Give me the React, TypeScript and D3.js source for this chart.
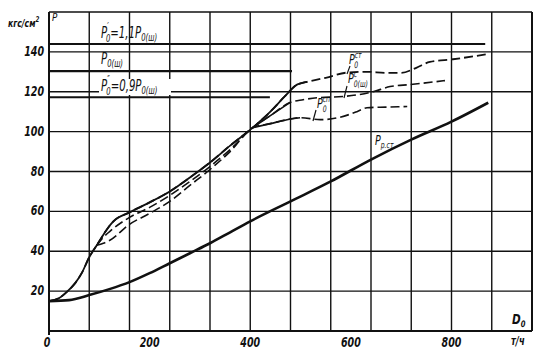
import React from "react";
import * as d3 from "d3";

// ---- data ----
const xTickLabels = [0, 200, 400, 600, 800];
const yTickLabels = [20, 40, 60, 80, 100, 120, 140];
const xGridValues = [0, 80, 160, 240, 320, 400, 480, 560, 640, 720, 800, 880, 960];
const yGridValues = [0, 20, 40, 60, 80, 100, 120, 140, 160];

// horizontal reference pressures: [value, end D0]
const p0Prime: [number, number] = [144, 867];
const p0Sh: [number, number] = [130.3, 483];
const p0Second: [number, number] = [117.3, 439];

const pRst: [number, number][] = [
  [0, 15], [40, 15.5], [80, 18], [120, 21], [160, 24.5], [200, 29], [240, 34],
  [280, 39], [320, 44], [360, 49.5], [400, 55], [480, 65], [560, 75], [640, 86],
  [720, 96], [800, 105], [873, 114.5],
];

const p0St: [number, number][] = [
  [0, 15], [20, 16.5], [35, 19.5], [52, 24], [65, 29], [80, 37], [95, 43], [110, 49],
  [121, 53], [128, 55], [160, 59.5], [200, 64.5], [240, 70], [280, 77], [320, 84.5],
  [360, 93], [405, 102], [440, 110], [470, 118], [493, 123.6], [500, 124.2], [513, 125],
  [550, 127], [592, 129.6], [632, 130], [670, 129.5], [700, 129.5], [730, 132],
  [757, 135], [803, 136.3], [868, 138.7],
];
const p0StSolid: [number, number] = [0, 513];

const p0ShC: [number, number][] = [
  [95, 43], [108, 47], [121, 50], [160, 57], [200, 62], [240, 68], [280, 75],
  [320, 82.5], [360, 91], [405, 102], [440, 108], [479, 114.6], [505, 116],
  [533, 117], [584, 117.6], [644, 120], [678, 122.6], [718, 123.6], [787, 125.6],
];
const p0ShCSolid: [number, number] = [405, 479];

const p0Sp: [number, number][] = [
  [95, 43], [108, 44], [121, 45.5], [160, 53.5], [200, 59], [240, 65], [280, 73],
  [320, 81], [360, 90], [405, 102], [440, 104], [473, 106], [499, 107], [539, 106],
  [575, 107], [612, 110], [632, 112], [670, 112.3], [712, 112.6],
];
const p0SpSolid: [number, number] = [405, 499];

// ---- layout ----
const W = 543;
const H = 359;
const x = d3.scaleLinear().domain([0, 960]).range([49, 532]);
const y = d3.scaleLinear().domain([0, 160]).range([331, 12]);

const line = d3
  .line<[number, number]>()
  .x((d) => x(d[0]))
  .y((d) => y(d[1]))
  .curve(d3.curveMonotoneX);

const seg = (pts: [number, number][], r: [number, number]) =>
  pts.filter((p) => p[0] >= r[0] && p[0] <= r[1]);

const FONT = "'DejaVu Sans', sans-serif";
const INK = "#111";

function Lbl({ tx, ty, sx = 0.68, size = 15, children }: any) {
  return (
    <g transform={`translate(${tx},${ty}) scale(${sx},1)`}>
      <text
        x={0}
        y={0}
        fontFamily={FONT}
        fontStyle="italic"
        fontSize={size}
        fill={INK}
      >
        {children}
      </text>
    </g>
  );
}

export default function App() {
  return (
    <svg width={W} height={H} style={{ display: "block", position: "absolute", left: 0, top: 0, background: "#fff" }}>
      <rect x={0} y={0} width={W} height={H} fill="#fff" />
      {/* grid */}
      {xGridValues.map((v) => (
        <line key={"gx" + v} x1={x(v)} x2={x(v)} y1={y(160)} y2={y(0) + (v === 0 ? 4 : 0)} stroke={INK} strokeWidth={v === 0 || v === 960 ? 2 : 1.4} />
      ))}
      {yGridValues.map((v) => (
        <line key={"gy" + v} x1={x(0)} x2={x(960)} y1={y(v)} y2={y(v)} stroke={INK} strokeWidth={v === 0 ? 2.2 : 1.4} />
      ))}

      {/* reference horizontal lines */}
      <line x1={x(0)} x2={x(p0Prime[1])} y1={y(p0Prime[0])} y2={y(p0Prime[0])} stroke={INK} strokeWidth={2} />
      <line x1={x(0)} x2={x(p0Sh[1])} y1={y(p0Sh[0])} y2={y(p0Sh[0])} stroke={INK} strokeWidth={2.2} />
      <line x1={x(0)} x2={x(p0Second[1])} y1={y(p0Second[0])} y2={y(p0Second[0])} stroke={INK} strokeWidth={2} />

      {/* curves */}
      <path d={line(pRst) || ""} fill="none" stroke={INK} strokeWidth={2.6} />
      <path d={line(p0St) || ""} fill="none" stroke={INK} strokeWidth={1.8} strokeDasharray="9 4" />
      <path d={line(seg(p0St, p0StSolid)) || ""} fill="none" stroke={INK} strokeWidth={1.8} />
      <path d={line(p0ShC) || ""} fill="none" stroke={INK} strokeWidth={1.6} strokeDasharray="9 4" />
      <path d={line(seg(p0ShC, p0ShCSolid)) || ""} fill="none" stroke={INK} strokeWidth={1.6} />
      <path d={line(p0Sp) || ""} fill="none" stroke={INK} strokeWidth={1.6} strokeDasharray="9 4" />
      <path d={line(seg(p0Sp, p0SpSolid)) || ""} fill="none" stroke={INK} strokeWidth={1.6} />

      {/* y tick labels */}
      {yTickLabels.map((v) => (
        <g key={"yl" + v} transform={`translate(44,${y(v) + 4}) scale(0.68,1)`}>
          <text textAnchor="end" fontFamily={FONT} fontStyle="italic" fontWeight="bold" fontSize={14} fill={INK}>
            {v}
          </text>
        </g>
      ))}
      {/* x tick labels */}
      {xTickLabels.map((v) => (
        <g key={"xl" + v} transform={`translate(${x(v) - (v === 0 ? 2 : 0)},347) scale(0.68,1)`}>
          <text textAnchor="middle" fontFamily={FONT} fontStyle="italic" fontWeight="bold" fontSize={14} fill={INK}>
            {v}
          </text>
        </g>
      ))}

      {/* axis titles */}
      <Lbl tx={8} ty={27} size={11} sx={0.7}>
        <tspan fontWeight="bold">кгс/см</tspan>
        <tspan fontSize={8} dy={-5} fontWeight="bold">2</tspan>
      </Lbl>
      <Lbl tx={52} ty={21} size={11} sx={0.8}>P</Lbl>
      <Lbl tx={512} ty={324} size={14} sx={0.75}>
        <tspan fontWeight="bold">D</tspan>
        <tspan fontSize={9} dy={3} fontWeight="bold">0</tspan>
      </Lbl>
      <Lbl tx={511} ty={345} size={12} sx={0.7}>
        <tspan fontWeight="bold">т/ч</tspan>
      </Lbl>

      {/* reference line labels */}
      <Lbl tx={101} ty={38}>
        P<tspan fontSize={10} dy={-8}>′</tspan>
        <tspan fontSize={10} dx={-4} dy={12}>0</tspan>
        <tspan dy={-4}>=1,1P</tspan>
        <tspan fontSize={10} dy={3}>0(ш)</tspan>
      </Lbl>
      <Lbl tx={101} ty={64}>
        P<tspan fontSize={10} dy={3}>0(ш)</tspan>
      </Lbl>
      <rect x={99} y={79} width={72} height={16} fill="#fff" />
      <Lbl tx={101} ty={91}>
        P<tspan fontSize={10} dy={-8}>″</tspan>
        <tspan fontSize={10} dx={-5} dy={12}>0</tspan>
        <tspan dy={-4}>=0,9P</tspan>
        <tspan fontSize={10} dy={3}>0(ш)</tspan>
      </Lbl>

      {/* curve labels */}
      <line x1={347} y1={74} x2={350} y2={66} stroke={INK} strokeWidth={1.2} />
      <Lbl tx={349} ty={64} size={14}>
        P<tspan fontSize={9} dy={-6}>ст</tspan>
        <tspan fontSize={9} dx={-11} dy={10}>0</tspan>
      </Lbl>
      <line x1={344} y1={98} x2={347} y2={86} stroke={INK} strokeWidth={1.2} />
      <Lbl tx={348} ty={83} size={14}>
        P<tspan fontSize={9} dy={-6}>c</tspan>
        <tspan fontSize={9} dx={-5} dy={10}>0(ш)</tspan>
      </Lbl>
      <line x1={313} y1={121} x2={316} y2={110} stroke={INK} strokeWidth={1.2} />
      <Lbl tx={317} ty={108} size={14}>
        P<tspan fontSize={9} dy={-6}>сп</tspan>
        <tspan fontSize={9} dx={-11} dy={10}>0</tspan>
      </Lbl>
      <Lbl tx={375} ty={145} size={14}>
        P<tspan fontSize={9} dy={3}>р.ст</tspan>
      </Lbl>
    </svg>
  );
}
